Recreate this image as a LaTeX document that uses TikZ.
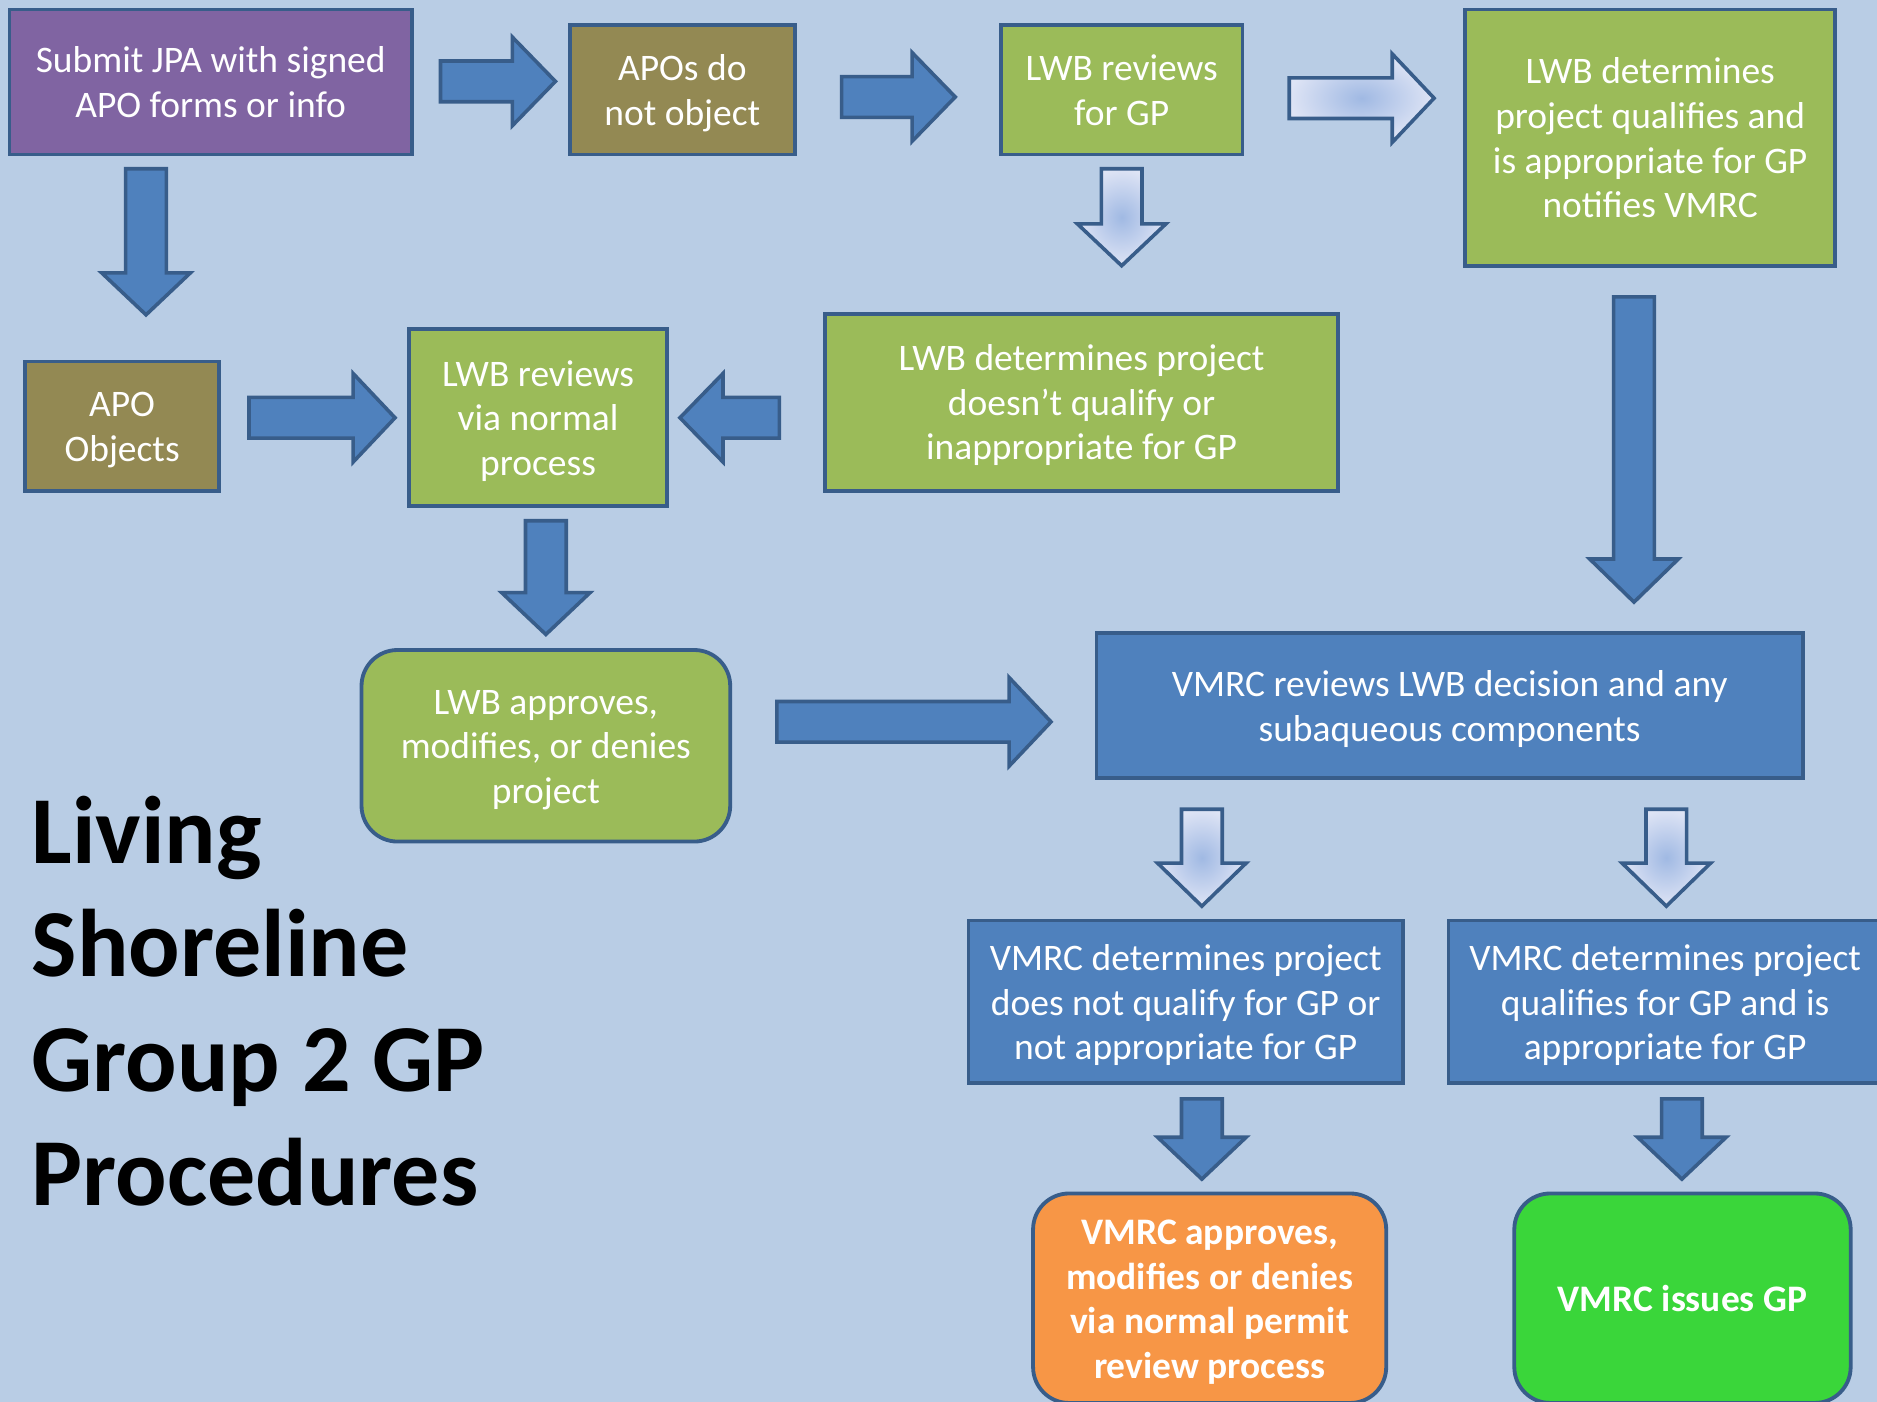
\documentclass[tikz,border=0pt]{standalone}
\usepackage{fontspec}
\setmainfont{Carlito}
\definecolor{bgc}{RGB}{185,205,229}
\definecolor{purp}{RGB}{128,100,162}
\definecolor{olive}{RGB}{147,137,83}
\definecolor{lgreen}{RGB}{155,187,89}
\definecolor{blu}{RGB}{79,129,189}
\definecolor{bordc}{RGB}{56,93,138}
\definecolor{orng}{RGB}{247,150,70}
\definecolor{bgreen}{RGB}{58,214,58}
\definecolor{shin}{RGB}{160,185,227}
\definecolor{shout}{RGB}{222,228,245}
\tikzset{
  box/.style={draw=bordc, line width=1.6pt, inner sep=0pt, align=center, text=white,
    font=\fontsize{15.65}{18.6}\selectfont},
  rbox/.style={box, rounded corners=15pt},
  solidarr/.style={fill=blu, draw=bordc, line width=1.5pt, line join=miter},
  gradarr/.style={draw=bordc, line width=1.5pt, line join=miter, inner color=shin, outer color=shout},
  titletext/.style={anchor=base west, inner sep=0pt, font=\fontsize{40.1}{47}\selectfont\bfseries, text=black}
}
\newcommand\bt[1]{\raisebox{-1.75pt}[\height][\depth]{\begin{tabular}{@{}c@{}}#1\end{tabular}}}
\newcommand\hblk[5][solidarr]{\path[#1] (#2,#4-17) -- (#5,#4-17) -- (#5,#4-37) -- (#3,#4) -- (#5,#4+37) -- (#5,#4+17) -- (#2,#4+17) -- cycle;}
\newcommand\vblk[5][solidarr]{\path[#1] (#2-17,#3) -- (#2+17,#3) -- (#2+17,#5) -- (#2+37,#5) -- (#2,#4) -- (#2-37,#5) -- (#2-17,#5) -- cycle;}
\begin{document}
\begin{tikzpicture}[x=0.5pt,y=-0.5pt]
\useasboundingbox (0,0) rectangle (1568,1171);
\clip (0,0) rectangle (1568,1171);
\fill[bgc] (0,0) rectangle (1568,1171);

% nodes
\node[box, fill=purp, minimum width=168pt, minimum height=60.5pt] (sub) at (176,68.5) {\bt{Submit JPA with signed\\APO forms or info}};
\node[box, fill=olive, minimum width=94pt, minimum height=54pt] (apo) at (570,75) {\bt{APOs do\\not object}};
\node[box, fill=lgreen, minimum width=101pt, minimum height=54pt] (lwbgp) at (937,75) {\bt{LWB reviews\\for GP}};
\node[box, fill=lgreen, minimum width=154.5pt, minimum height=107pt] (lwbq) at (1378.5,115) {\bt{LWB determines\\project qualifies and\\is appropriate for GP\\notifies VMRC}};
\node[box, fill=olive, minimum width=81pt, minimum height=54pt] (apoobj) at (102,356) {\bt{APO\\Objects}};
\node[box, fill=lgreen, minimum width=107.5pt, minimum height=74pt] (lwbn) at (449.5,349) {\bt{LWB reviews\\via normal\\process}};
\node[box, fill=lgreen, minimum width=214.5pt, minimum height=74pt] (lwbnq) at (903.5,336) {\bt{LWB determines project\\doesn’t qualify or\\inappropriate for GP}};
\node[rbox, fill=lgreen, minimum width=154pt, minimum height=80pt] (lwbap) at (456,623) {\bt{LWB approves,\\modifies, or denies\\project}};
\node[box, fill=blu, minimum width=295pt, minimum height=60.5pt] (vrev) at (1211,589.5) {\bt{VMRC reviews LWB decision and any\\subaqueous components}};
\node[box, fill=blu, minimum width=181.5pt, minimum height=68pt] (vnq) at (990.5,837) {\bt{VMRC determines project\\does not qualify for GP or\\not appropriate for GP}};
\node[box, fill=blu, minimum width=181pt, minimum height=68pt] (vq) at (1391,837) {\bt{VMRC determines project\\qualifies for GP and is\\appropriate for GP}};
\node[rbox, fill=orng, minimum width=147.5pt, minimum height=87.5pt, font=\fontsize{15.65}{18.6}\selectfont\bfseries] (vapp) at (1010.5,1084.5) {\bt{VMRC approves,\\modifies or denies\\via normal permit\\review process}};
\node[rbox, fill=bgreen, minimum width=140.5pt, minimum height=87.5pt, font=\fontsize{15.65}{18.6}\selectfont\bfseries] (viss) at (1405.5,1084.5) {\bt{VMRC issues GP}};

% title
\node[titletext] (t1) at (26,721) {Living};
\node[titletext] (t2) at (26,816) {Shoreline};
\node[titletext] (t3) at (26,912) {Group 2 GP};
\node[titletext] (t4) at (26,1007) {Procedures};

% block arrows
\hblk{368}{464}{68}{428}
\hblk{703}{798}{81}{762}
\hblk[gradarr]{1077}{1198}{82}{1163}
\hblk{208}{330}{349}{295}
\hblk{651}{568}{349}{604}
\hblk{649}{878}{603}{843}
\vblk{122}{141}{263}{228}
\vblk[gradarr]{937}{141}{222}{187}
\vblk{1365}{248}{503}{467}
\vblk{456}{435}{530}{495}
\vblk[gradarr]{1004}{676}{757}{721}
\vblk[gradarr]{1392}{676}{757}{721}
\vblk{1004}{918}{985}{950}
\vblk{1405}{918}{985}{950}
\end{tikzpicture}
\end{document}
